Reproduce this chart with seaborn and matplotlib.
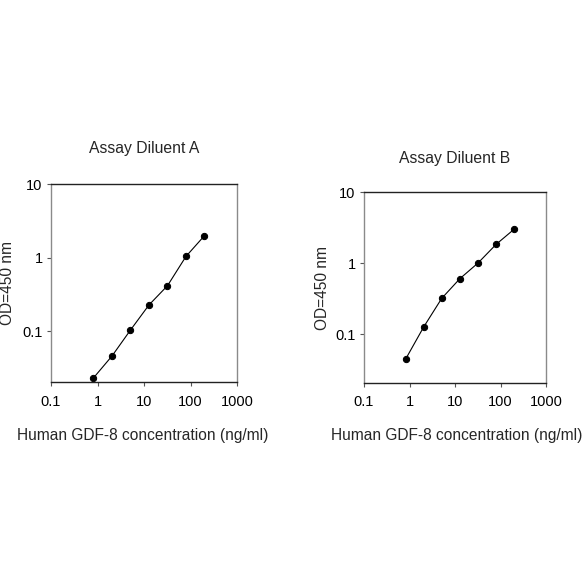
import numpy as np
import pandas as pd
import matplotlib
matplotlib.use("Agg")
import matplotlib.pyplot as plt
import seaborn as sns

# standard curve data
conc = [0.82, 2.05, 5.12, 12.8, 32, 80, 200]
od_a = [0.0233, 0.0462, 0.104, 0.228, 0.416, 1.04, 1.99]
od_b = [0.0443, 0.126, 0.319, 0.603, 1.0, 1.83, 3.0]
titles = ["Assay Diluent A", "Assay Diluent B"]
xticks = [0.1, 1, 10, 100, 1000]
xticklabels = ["0.1", "1", "10", "100", "1000"]
yticks = [0.1, 1, 10]
yticklabels = ["0.1", "1", "10"]

sns.set_style("white")
plt.rcParams['font.family'] = ['Liberation Sans', 'DejaVu Sans']

fig = plt.figure(figsize=(5.84, 5.84), dpi=100)
ax_a = fig.add_axes([51/584, 1-382/584, 186/584, 198/584])
ax_b = fig.add_axes([364/584, 1-383/584, 182/584, 191/584])

panels = [(ax_a, od_a, titles[0], 22, (-0.194, 0.5), (0.495, -0.232)),
          (ax_b, od_b, titles[1], 21, (-0.187, 0.5), (0.508, -0.236))]

for ax, od, title, tpad, ypos, xpos in panels:
    df = pd.DataFrame({"conc": conc, "od": od})
    sns.lineplot(data=df, x="conc", y="od", ax=ax, color="black", linewidth=0.8,
                 marker="o", markersize=4.5, markeredgecolor="black")
    ax.set_xscale("log")
    ax.set_yscale("log")
    ax.set_xlim(0.1, 1000)
    ax.set_ylim(0.0205, 10)
    ax.set_xticks(xticks)
    ax.set_xticklabels(xticklabels)
    ax.set_yticks(yticks)
    ax.set_yticklabels(yticklabels)
    ax.minorticks_off()
    ax.tick_params(axis="both", direction="out", length=3, width=0.8, labelsize=10.5,
                   colors="#555555", labelcolor="black", bottom=True, left=True)
    ax.tick_params(axis="x", pad=6)
    ax.tick_params(axis="y", pad=3)
    for side in ["top", "bottom"]:
        ax.spines[side].set_color("#222222")
        ax.spines[side].set_linewidth(1.0)
    for side in ["left", "right"]:
        ax.spines[side].set_color("#8a8a8a")
        ax.spines[side].set_linewidth(1.0)
    ax.set_title(title, fontsize=11.3, pad=tpad)
    ax.set_xlabel("Human GDF-8 concentration (ng/ml)", fontsize=11.2)
    ax.set_ylabel("OD=450 nm", fontsize=11.2)
    ax.yaxis.set_label_coords(*ypos)
    ax.xaxis.set_label_coords(*xpos)

fig.savefig("out.png", dpi=100)
